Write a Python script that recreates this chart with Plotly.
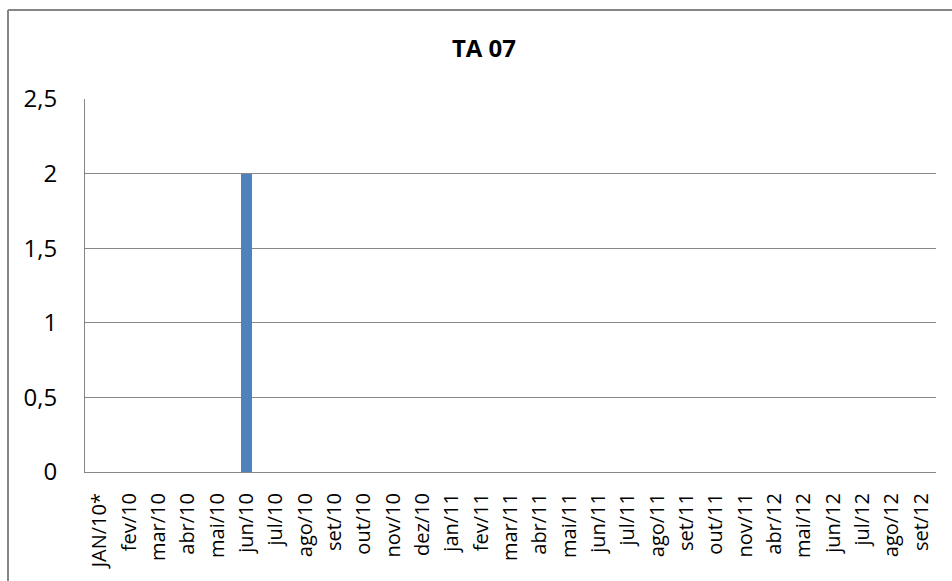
import plotly.graph_objects as go

categories = ["JAN/10*", "fev/10", "mar/10", "abr/10", "mai/10", "jun/10", "jul/10",
              "ago/10", "set/10", "out/10", "nov/10", "dez/10", "jan/11", "fev/11",
              "mar/11", "abr/11", "mai/11", "jun/11", "jul/11", "ago/11", "set/11",
              "out/11", "nov/11", "abr/12", "mai/12", "jun/12", "jul/12", "ago/12", "set/12"]
values = [0, 0, 0, 0, 0, 2, 0, 0, 0, 0, 0, 0, 0, 0, 0, 0, 0, 0, 0, 0, 0, 0, 0, 0, 0, 0, 0, 0, 0]
y_ticks = [0, 0.5, 1, 1.5, 2, 2.5]

W, H = 952, 581
L, R, T, B = 85, 16, 99, 109
pw, ph = W - L - R, H - T - B

fig = go.Figure(go.Bar(x=categories, y=values, marker_color="#4F81BD",
                       marker_line_width=0, width=0.36))

fig.update_layout(
    width=W, height=H,
    margin=dict(l=L, r=R, t=T, b=B),
    paper_bgcolor="white", plot_bgcolor="white",
    separators=",.",
    font=dict(family="Open Sans", color="black"),
    title=dict(text="<b>TA 07</b>", x=484 / W, xanchor="center", xref="container",
               y=1 - 49 / H, yanchor="middle", font=dict(size=24, color="black")),
    showlegend=False,
    bargap=0,
)
fig.update_yaxes(range=[0, 2.5], tickvals=y_ticks, showgrid=True, gridcolor="#868686",
                 gridwidth=1, showline=True, linecolor="#868686", linewidth=1,
                 zeroline=False, tickfont=dict(size=24), ticks="", ticklabelstandoff=22)
fig.update_xaxes(type="category", tickangle=-90, tickfont=dict(size=20),
                 showline=True, linecolor="#868686", linewidth=1, ticks="",
                 ticklabelstandoff=12)

# outer chart frame (left and top edges visible; right/bottom lie outside the view)
fx0 = (8 - L) / pw
fy1 = 1 + (T - 10) / ph
fig.add_shape(type="line", xref="paper", yref="paper", x0=fx0, x1=fx0,
              y0=-(H - T - ph) / ph - 0.05, y1=fy1,
              line=dict(color="#868686", width=2), layer="below")
fig.add_shape(type="line", xref="paper", yref="paper", x0=fx0, x1=(W + 5 - L) / pw,
              y0=fy1, y1=fy1,
              line=dict(color="#868686", width=2), layer="below")

fig.write_html("out.html", config={"displayModeBar": False},
               post_script="document.body.style.margin='0';document.body.style.overflow='hidden';")
